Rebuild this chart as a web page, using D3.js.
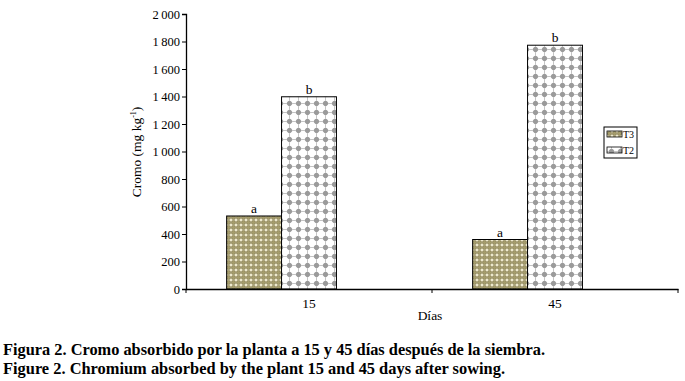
<!DOCTYPE html>
<html lang="es">
<head>
<meta charset="UTF-8">
<title>Cromo absorbido</title>
<script src="https://d3js.org/d3.v7.min.js"></script>
<style>
    body { margin: 0; background: #fff; }
</style>
</head>
<body>
<svg id="chart" width="685" height="381" style="font-family: 'DejaVu Serif', 'Liberation Serif', serif"></svg>
<script>
// datos
const dias = ["15", "45"];
const series = ["T3", "T2"];
const valoresT3 = [531, 360];
const valoresT2 = [1398, 1773];
const letrasT3 = ["a", "a"];
const letrasT2 = ["b", "b"];
const yTicks = [0, 200, 400, 600, 800, 1000, 1200, 1400, 1600, 1800, 2000];

const FONT = "'Liberation Serif', 'DejaVu Serif', serif";
const svg = d3.select("#chart");

// patrones de relleno
const defs = svg.append("defs");
const p3 = defs.append("pattern").attr("id", "pT3")
    .attr("patternUnits", "userSpaceOnUse").attr("width", 5).attr("height", 5);
p3.append("rect").attr("width", 5).attr("height", 5).attr("fill", "#f2edd2");
p3.append("circle").attr("cx", 2.5).attr("cy", 2.5).attr("r", 2.1)
    .attr("fill", "#a59c6c").attr("stroke", "#7a7147").attr("stroke-width", 0.6);

const p2 = defs.append("pattern").attr("id", "pT2")
    .attr("patternUnits", "userSpaceOnUse").attr("width", 9).attr("height", 9);
p2.append("rect").attr("width", 9).attr("height", 9).attr("fill", "#fff");
p2.append("path").attr("d", "M4.5,1.2L7.8,4.5L4.5,7.8L1.2,4.5Z").attr("fill", "#9a9a9a");
p2.append("circle").attr("cx", 4.5).attr("cy", 4.5).attr("r", 2.4).attr("fill", "#9a9a9a");
p2.append("path").attr("d", "M4.5,0V1.5M4.5,7.5V9M0,4.5H1.5M7.5,4.5H9")
    .attr("stroke", "#c4c4c4").attr("stroke-width", 1);

const fills = { T3: "url(#pT3)", T2: "url(#pT2)" };

// escalas
const x0 = d3.scaleBand().domain(dias).range([186, 678]);
// el grupo tiene tres huecos; el tercero queda vacío
const x1 = d3.scaleBand().domain([...series, "vacío"]).range([0, x0.bandwidth()])
    .paddingInner(0).paddingOuter(0.74);
const y = d3.scaleLinear().domain([0, 2000]).range([289, 14]);

const fmt = v => d3.format(",")(v).replace(",", "\u2009");

// eje y
const yAxis = svg.append("g").attr("transform", "translate(186,0)")
    .call(d3.axisLeft(y).tickValues(yTicks).tickSize(4).tickPadding(2).tickFormat(fmt));
yAxis.attr("font-family", null);
yAxis.select(".domain").attr("stroke", "#000").attr("stroke-width", 1.3);
yAxis.selectAll("text").attr("font-size", 12.5).attr("fill", "#000");

// barras
const rows = dias.map((d, i) => ({
    dia: d,
    vals: [
        { s: "T3", v: valoresT3[i], l: letrasT3[i] },
        { s: "T2", v: valoresT2[i], l: letrasT2[i] }
    ]
}));

const grupos = svg.selectAll("g.grupo").data(rows).enter().append("g")
    .attr("class", "grupo")
    .attr("transform", d => `translate(${x0(d.dia)},0)`);

grupos.selectAll("rect").data(d => d.vals).enter().append("rect")
    .attr("x", d => x1(d.s))
    .attr("y", d => y(d.v))
    .attr("width", x1.bandwidth())
    .attr("height", d => y(0) - y(d.v))
    .attr("fill", d => fills[d.s])
    .attr("stroke", "#000")
    .attr("stroke-width", 1);

grupos.selectAll("text.letra").data(d => d.vals).enter().append("text")
    .attr("class", "letra")
    .attr("x", d => x1(d.s) + x1.bandwidth() / 2)
    .attr("y", d => y(d.v) - 3)
    .attr("text-anchor", "middle")
    .attr("font-size", 13.5)
    .text(d => d.l);

// eje x
const xAxis = svg.append("g").attr("transform", "translate(0,289)")
    .call(d3.axisBottom(x0).tickSize(0).tickPadding(9));
xAxis.attr("font-family", null);
xAxis.select(".domain").attr("stroke", "#000").attr("stroke-width", 1.3);
xAxis.selectAll("text").attr("font-size", 13.5).attr("fill", "#000");
// marcas entre categorías
xAxis.selectAll("line.sep").data([186, 432, 678]).enter().append("line")
    .attr("class", "sep")
    .attr("x1", d => d).attr("x2", d => d)
    .attr("y1", 0).attr("y2", 4)
    .attr("stroke", "#000");

// títulos de ejes
svg.append("text")
    .attr("x", 430).attr("y", 320)
    .attr("text-anchor", "middle").attr("font-size", 13.5)
    .text("Días");

const yl = svg.append("text")
    .attr("transform", "translate(141,152) rotate(-90)")
    .attr("text-anchor", "middle").attr("font-size", 13.5);
yl.append("tspan").text("Cromo (mg kg");
yl.append("tspan").attr("font-size", 8).attr("dy", -5).text("-1");
yl.append("tspan").attr("dy", 5).text(")");

// leyenda
const leg = svg.append("g").attr("transform", "translate(604,127)");
leg.append("rect").attr("width", 33).attr("height", 31)
    .attr("fill", "#fff").attr("stroke", "#000").attr("stroke-width", 1);
series.forEach((s, i) => {
    const g = leg.append("g").attr("transform", `translate(3,${4 + i * 16})`);
    g.append("rect").attr("width", 15).attr("height", 6)
        .attr("fill", fills[s]).attr("stroke", "#000").attr("stroke-width", 0.8);
    g.append("text").attr("x", 16).attr("y", 7).attr("font-size", 10).text(s);
});

// pie de figura
const cap = svg.append("g").attr("font-weight", "bold").attr("font-size", 16);
cap.append("text").attr("x", 3).attr("y", 355).attr("textLength", 542)
    .attr("lengthAdjust", "spacingAndGlyphs")
    .text("Figura 2. Cromo absorbido por la planta a 15 y 45 días después de la siembra.");
cap.append("text").attr("x", 3).attr("y", 374).attr("textLength", 502)
    .attr("lengthAdjust", "spacingAndGlyphs")
    .text("Figure 2. Chromium absorbed by the plant 15 and 45 days after sowing.");

svg.selectAll("text").style("font-family", FONT);
</script>
</body>
</html>
